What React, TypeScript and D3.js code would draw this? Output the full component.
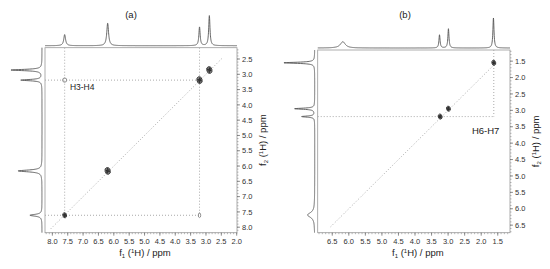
import React, { useEffect, useRef } from "react";
import * as d3 from "d3";

// 1D projections: peak position (ppm), relative intensity, half width (ppm)
const aTopPpm = [7.6, 6.2, 3.21, 2.89];
const aTopInt = [0.37, 0.75, 0.62, 1.0];
const aTopHw = [0.035, 0.035, 0.025, 0.025];
const aLeftPpm = [2.86, 3.19, 6.16, 7.61];
const aLeftInt = [1.0, 0.68, 0.77, 0.39];
const aLeftHw = [0.025, 0.025, 0.035, 0.035];

const bTopPpm = [6.18, 3.26, 2.99, 1.63];
const bTopInt = [0.21, 0.44, 0.64, 1.0];
const bTopHw = [0.09, 0.02, 0.02, 0.02];
const bLeftPpm = [1.55, 2.95, 3.19, 6.19];
const bLeftInt = [1.0, 0.65, 0.42, 0.23];
const bLeftHw = [0.02, 0.02, 0.02, 0.09];

// cross peaks: f1, f2, intensity
const aCrossF1 = [2.89, 3.21, 6.2, 7.6, 7.6, 3.21];
const aCrossF2 = [2.86, 3.19, 6.16, 7.61, 3.19, 7.61];
const aCrossInt = [1.0, 0.9, 0.9, 0.8, 0.3, 0.35];
const bCrossF1 = [1.62, 2.99, 3.24];
const bCrossF2 = [1.55, 2.95, 3.19];
const bCrossInt = [0.7, 0.6, 0.6];

const aXTicks = d3.range(8.0, 1.99, -0.5);
const aYTicks = d3.range(2.5, 8.01, 0.5);
const bXTicks = d3.range(6.5, 1.49, -0.5);
const bYTicks = d3.range(1.5, 6.51, 0.5);

const font = "'Liberation Sans', Arial, sans-serif";

function lorentz(ppm, pos, ints, hws) {
  let s = 0;
  pos.forEach((p, i) => {
    const d = (ppm - p) / hws[i];
    s += ints[i] / (1 + d * d);
  });
  return s;
}

function drawPanel(svg, cfg) {
  const { x, y, xTicks, yTicks, top, left, cross, guides, diag, label, title } = cfg;
  const g = svg.append("g");
  const [x0, x1] = x.range();
  const [y0, y1] = y.range();

  g.append("rect")
    .attr("x", x0).attr("y", y0)
    .attr("width", x1 - x0).attr("height", y1 - y0)
    .attr("fill", "none").attr("stroke", "#999").attr("stroke-width", 0.8);

  // guide lines
  const dotted = (x1_, y1_, x2_, y2_) => g.append("line")
    .attr("x1", x(x1_)).attr("y1", y(y1_)).attr("x2", x(x2_)).attr("y2", y(y2_))
    .attr("stroke", "#aaa").attr("stroke-width", 1).attr("stroke-dasharray", "1,2");
  dotted(diag[0], diag[0], diag[1], diag[1]);
  guides.forEach(l => dotted(l[0], l[1], l[2], l[3]));

  // projections
  const step = 0.004;
  const [xa, xb] = x.domain();
  const xs = d3.range(Math.min(xa, xb), Math.max(xa, xb), step);
  const topBase = y0 - 2;
  const topLine = d3.line().x(d => x(d)).y(d => topBase - 30 * lorentz(d, top[0], top[1], top[2]));
  g.append("path").attr("d", topLine(xs)).attr("fill", "none").attr("stroke", "#555").attr("stroke-width", 0.9);

  const [ya, yb] = y.domain();
  const ys = d3.range(ya, yb, step);
  const leftBase = x0 - 3;
  const leftLine = d3.line().x(d => leftBase - 31 * lorentz(d, left[0], left[1], left[2])).y(d => y(d));
  g.append("path").attr("d", leftLine(ys)).attr("fill", "none").attr("stroke", "#555").attr("stroke-width", 0.9);

  // cross peaks as contour rings
  cross[0].forEach((f1, i) => {
    const f2 = cross[1][i];
    const it = cross[2][i];
    const cx = x(f1), cy = y(f2);
    if (it < 0.5) {
      g.append("ellipse").attr("cx", cx).attr("cy", cy)
        .attr("rx", it < 0.32 ? 2.1 : 1.2).attr("ry", it < 0.32 ? 2.1 : 2.3)
        .attr("fill", "none").attr("stroke", "#777").attr("stroke-width", 0.8);
      return;
    }
    const n = Math.round(it * 3);
    for (let k = n; k >= 1; k--) {
      g.append("ellipse").attr("cx", cx).attr("cy", cy)
        .attr("rx", 0.5 + k * 0.7).attr("ry", 0.8 + k * 0.9)
        .attr("transform", `rotate(-15 ${cx} ${cy})`)
        .attr("fill", k === 1 ? "#333" : "#fff").attr("stroke", "#222").attr("stroke-width", 0.8);
    }
  });

  // bottom axis
  const minorX = d3.range(Math.ceil(Math.min(xa, xb) * 10) / 10, Math.max(xa, xb), 0.1);
  g.selectAll(".mx").data(minorX).enter().append("line")
    .attr("x1", d => x(d)).attr("x2", d => x(d)).attr("y1", y1).attr("y2", y1 + 1.5)
    .attr("stroke", "#888").attr("stroke-width", 0.6);
  g.selectAll(".tx").data(xTicks).enter().append("line")
    .attr("x1", d => x(d)).attr("x2", d => x(d)).attr("y1", y1).attr("y2", y1 + 3)
    .attr("stroke", "#666").attr("stroke-width", 0.7);
  g.selectAll(".lx").data(xTicks).enter().append("text")
    .attr("x", d => x(d)).attr("y", y1 + 11)
    .attr("text-anchor", "middle").attr("font-size", 7.5).attr("fill", "#333")
    .attr("font-family", font).text(d => d.toFixed(1));

  // right axis
  const minorY = d3.range(Math.ceil(ya * 10) / 10, yb, 0.1);
  g.selectAll(".my").data(minorY).enter().append("line")
    .attr("x1", x1).attr("x2", x1 + 1.5).attr("y1", d => y(d)).attr("y2", d => y(d))
    .attr("stroke", "#888").attr("stroke-width", 0.6);
  g.selectAll(".ty").data(yTicks).enter().append("line")
    .attr("x1", x1).attr("x2", x1 + 3).attr("y1", d => y(d)).attr("y2", d => y(d))
    .attr("stroke", "#666").attr("stroke-width", 0.7);
  g.selectAll(".ly").data(yTicks).enter().append("text")
    .attr("x", x1 + 5).attr("y", d => y(d) + 2.7)
    .attr("font-size", 7.5).attr("fill", "#333")
    .attr("font-family", font).text(d => d.toFixed(1));

  // titles
  const axTitle = (t, n) => {
    t.append("tspan").text("f");
    t.append("tspan").attr("font-size", 6).attr("dy", 2).text(n);
    t.append("tspan").attr("dy", -2).text(" (");
    t.append("tspan").attr("font-size", 6).attr("dy", -3).text("1");
    t.append("tspan").attr("dy", 3).text("H) / ppm");
  };
  const xt = g.append("text").attr("x", (x0 + x1) / 2 + 4).attr("y", 256)
    .attr("text-anchor", "middle").attr("font-size", 9.5).attr("fill", "#222").attr("font-family", font);
  axTitle(xt, "1");
  const yc = (y0 + y1) / 2;
  const yt = g.append("text")
    .attr("transform", `translate(${x1 + 29},${yc}) rotate(-90)`)
    .attr("text-anchor", "middle").attr("font-size", 9.5).attr("fill", "#222").attr("font-family", font);
  axTitle(yt, "2");

  g.append("text").attr("x", x(label.f1)).attr("y", y(label.f2))
    .attr("font-size", label.size).attr("fill", "#222").attr("font-family", font).text(label.text);

  g.append("text").attr("x", title.x).attr("y", 18).attr("text-anchor", "middle")
    .attr("font-size", 9.5).attr("fill", "#222").attr("font-family", font).text(title.text);
}

export default function App() {
  const svgRef = useRef(null);
  useEffect(() => {
    const svg = d3.select(svgRef.current);
    svg.selectAll("*").remove();

    const ax = d3.scaleLinear().domain([8.24, 1.99]).range([45, 237]);
    const ay = d3.scaleLinear().domain([2.13, 8.18]).range([47.7, 232.7]);
    drawPanel(svg, {
      x: ax, y: ay, xTicks: aXTicks, yTicks: aYTicks,
      top: [aTopPpm, aTopInt, aTopHw],
      left: [aLeftPpm, aLeftInt, aLeftHw],
      cross: [aCrossF1, aCrossF2, aCrossInt],
      guides: [[7.6, 2.13, 7.6, 7.61], [3.21, 2.13, 3.21, 7.61], [8.24, 3.19, 3.21, 3.19], [8.24, 7.61, 3.21, 7.61]],
      diag: [8.05, 2.45],
      label: { text: "H3-H4", f1: 7.43, f2: 3.51, size: 8.5 },
      title: { text: "(a)", x: 131 },
    });

    const bx = d3.scaleLinear().domain([6.94, 1.13]).range([317.7, 510]);
    const by = d3.scaleLinear().domain([1.16, 6.73]).range([50, 232.7]);
    drawPanel(svg, {
      x: bx, y: by, xTicks: bXTicks, yTicks: bYTicks,
      top: [bTopPpm, bTopInt, bTopHw],
      left: [bLeftPpm, bLeftInt, bLeftHw],
      cross: [bCrossF1, bCrossF2, bCrossInt],
      guides: [[6.94, 3.19, 1.62, 3.19], [1.62, 1.16, 1.62, 3.19]],
      diag: [6.55, 1.6],
      label: { text: "H6-H7", f1: 2.28, f2: 3.71, size: 9.5 },
      title: { text: "(b)", x: 405 },
    });
  }, []);

  return (
    <svg ref={svgRef} width={550} height={269}
      style={{ position: "absolute", left: 0, top: 0, background: "#fff" }} />
  );
}
